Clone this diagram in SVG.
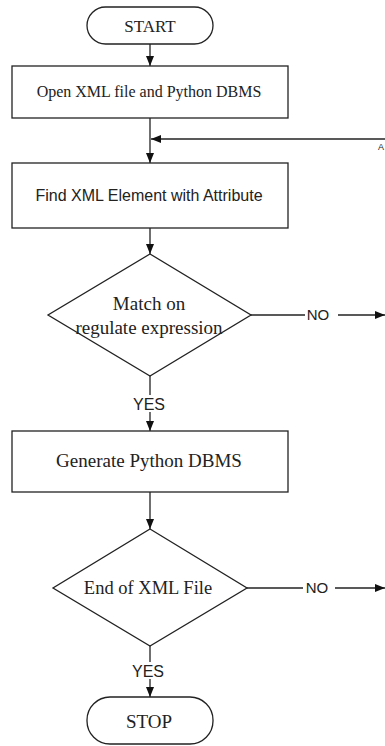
<svg xmlns="http://www.w3.org/2000/svg" width="385" height="746" viewBox="0 0 385 746">
<style>
.shape{fill:#fff;stroke:#222;stroke-width:1.3}
.conn{fill:none;stroke:#222;stroke-width:1.3}
.serif{font-family:"Liberation Serif","Times New Roman",serif;fill:#222;text-anchor:middle}
.sans{font-family:"Liberation Sans",Arial,sans-serif;fill:#222;text-anchor:middle}
.bg{fill:#fff;stroke:none}
</style>
<defs>
<marker id="arr" viewBox="0 0 10 10" refX="10" refY="5" markerWidth="10" markerHeight="10" markerUnits="userSpaceOnUse" orient="auto">
<path d="M0,1 L10,5 L0,9 Z" fill="#111"/>
</marker>
</defs>
<rect width="385" height="746" fill="#fff"/>
<g id="connectors">
<line class="conn" x1="150" y1="44" x2="150" y2="66" marker-end="url(#arr)"/>
<line class="conn" x1="150" y1="118" x2="150" y2="163" marker-end="url(#arr)"/>
<line class="conn" x1="385" y1="139" x2="151" y2="139" marker-end="url(#arr)"/>
<line class="conn" x1="150" y1="228" x2="150" y2="254" marker-end="url(#arr)"/>
<line class="conn" x1="251" y1="315" x2="305" y2="315"/>
<line class="conn" x1="338" y1="315" x2="385" y2="315" marker-end="url(#arr)"/>
<line class="conn" x1="150" y1="376" x2="150" y2="431" marker-end="url(#arr)"/>
<line class="conn" x1="150" y1="492" x2="150" y2="529" marker-end="url(#arr)"/>
<line class="conn" x1="247" y1="588" x2="303" y2="588"/>
<line class="conn" x1="335" y1="588" x2="385" y2="588" marker-end="url(#arr)"/>
<line class="conn" x1="150" y1="646" x2="150" y2="697" marker-end="url(#arr)"/>
<g id="label-no1"><text class="sans" x="318" y="320" font-size="15">NO</text></g>
<g id="label-yes1"><rect class="bg" x="131" y="395" width="38" height="17"/><text class="sans" x="149" y="410" font-size="16">YES</text></g>
<g id="label-no2"><text class="sans" x="317" y="593" font-size="15">NO</text></g>
<g id="label-yes2"><rect class="bg" x="130" y="662" width="38" height="17"/><text class="sans" x="148" y="677" font-size="16">YES</text></g>
<g id="label-a"><text class="sans" x="384" y="150" font-size="9" style="text-anchor:end">A</text></g>
</g>
<g id="start">
<rect class="shape" x="87" y="7" width="126" height="37" rx="18.5"/>
<text class="serif" x="150" y="32" font-size="17">START</text>
</g>
<g id="open">
<rect class="shape" x="12" y="66" width="276" height="52"/>
<text class="serif" x="149" y="97" font-size="16">Open XML file and Python DBMS</text>
</g>
<g id="find">
<rect class="shape" x="12" y="163" width="276" height="65"/>
<text class="sans" x="149" y="201" font-size="16">Find XML Element with Attribute</text>
</g>
<g id="match">
<polygon class="shape" points="150,254 251,315 150,376 48,315"/>
<text class="serif" x="149" y="310" font-size="19">Match on</text>
<text class="serif" x="149" y="334" font-size="19">regulate expression</text>
</g>
<g id="generate">
<rect class="shape" x="12" y="431" width="276" height="61"/>
<text class="serif" x="149" y="467" font-size="19">Generate Python DBMS</text>
</g>
<g id="end">
<polygon class="shape" points="150,529 247,588 150,646 53,588"/>
<text class="serif" x="148" y="594" font-size="18.5">End of XML File</text>
</g>
<g id="stop">
<rect class="shape" x="87" y="697" width="126" height="47" rx="23"/>
<text class="serif" x="149" y="728" font-size="19">STOP</text>
</g>
</svg>
